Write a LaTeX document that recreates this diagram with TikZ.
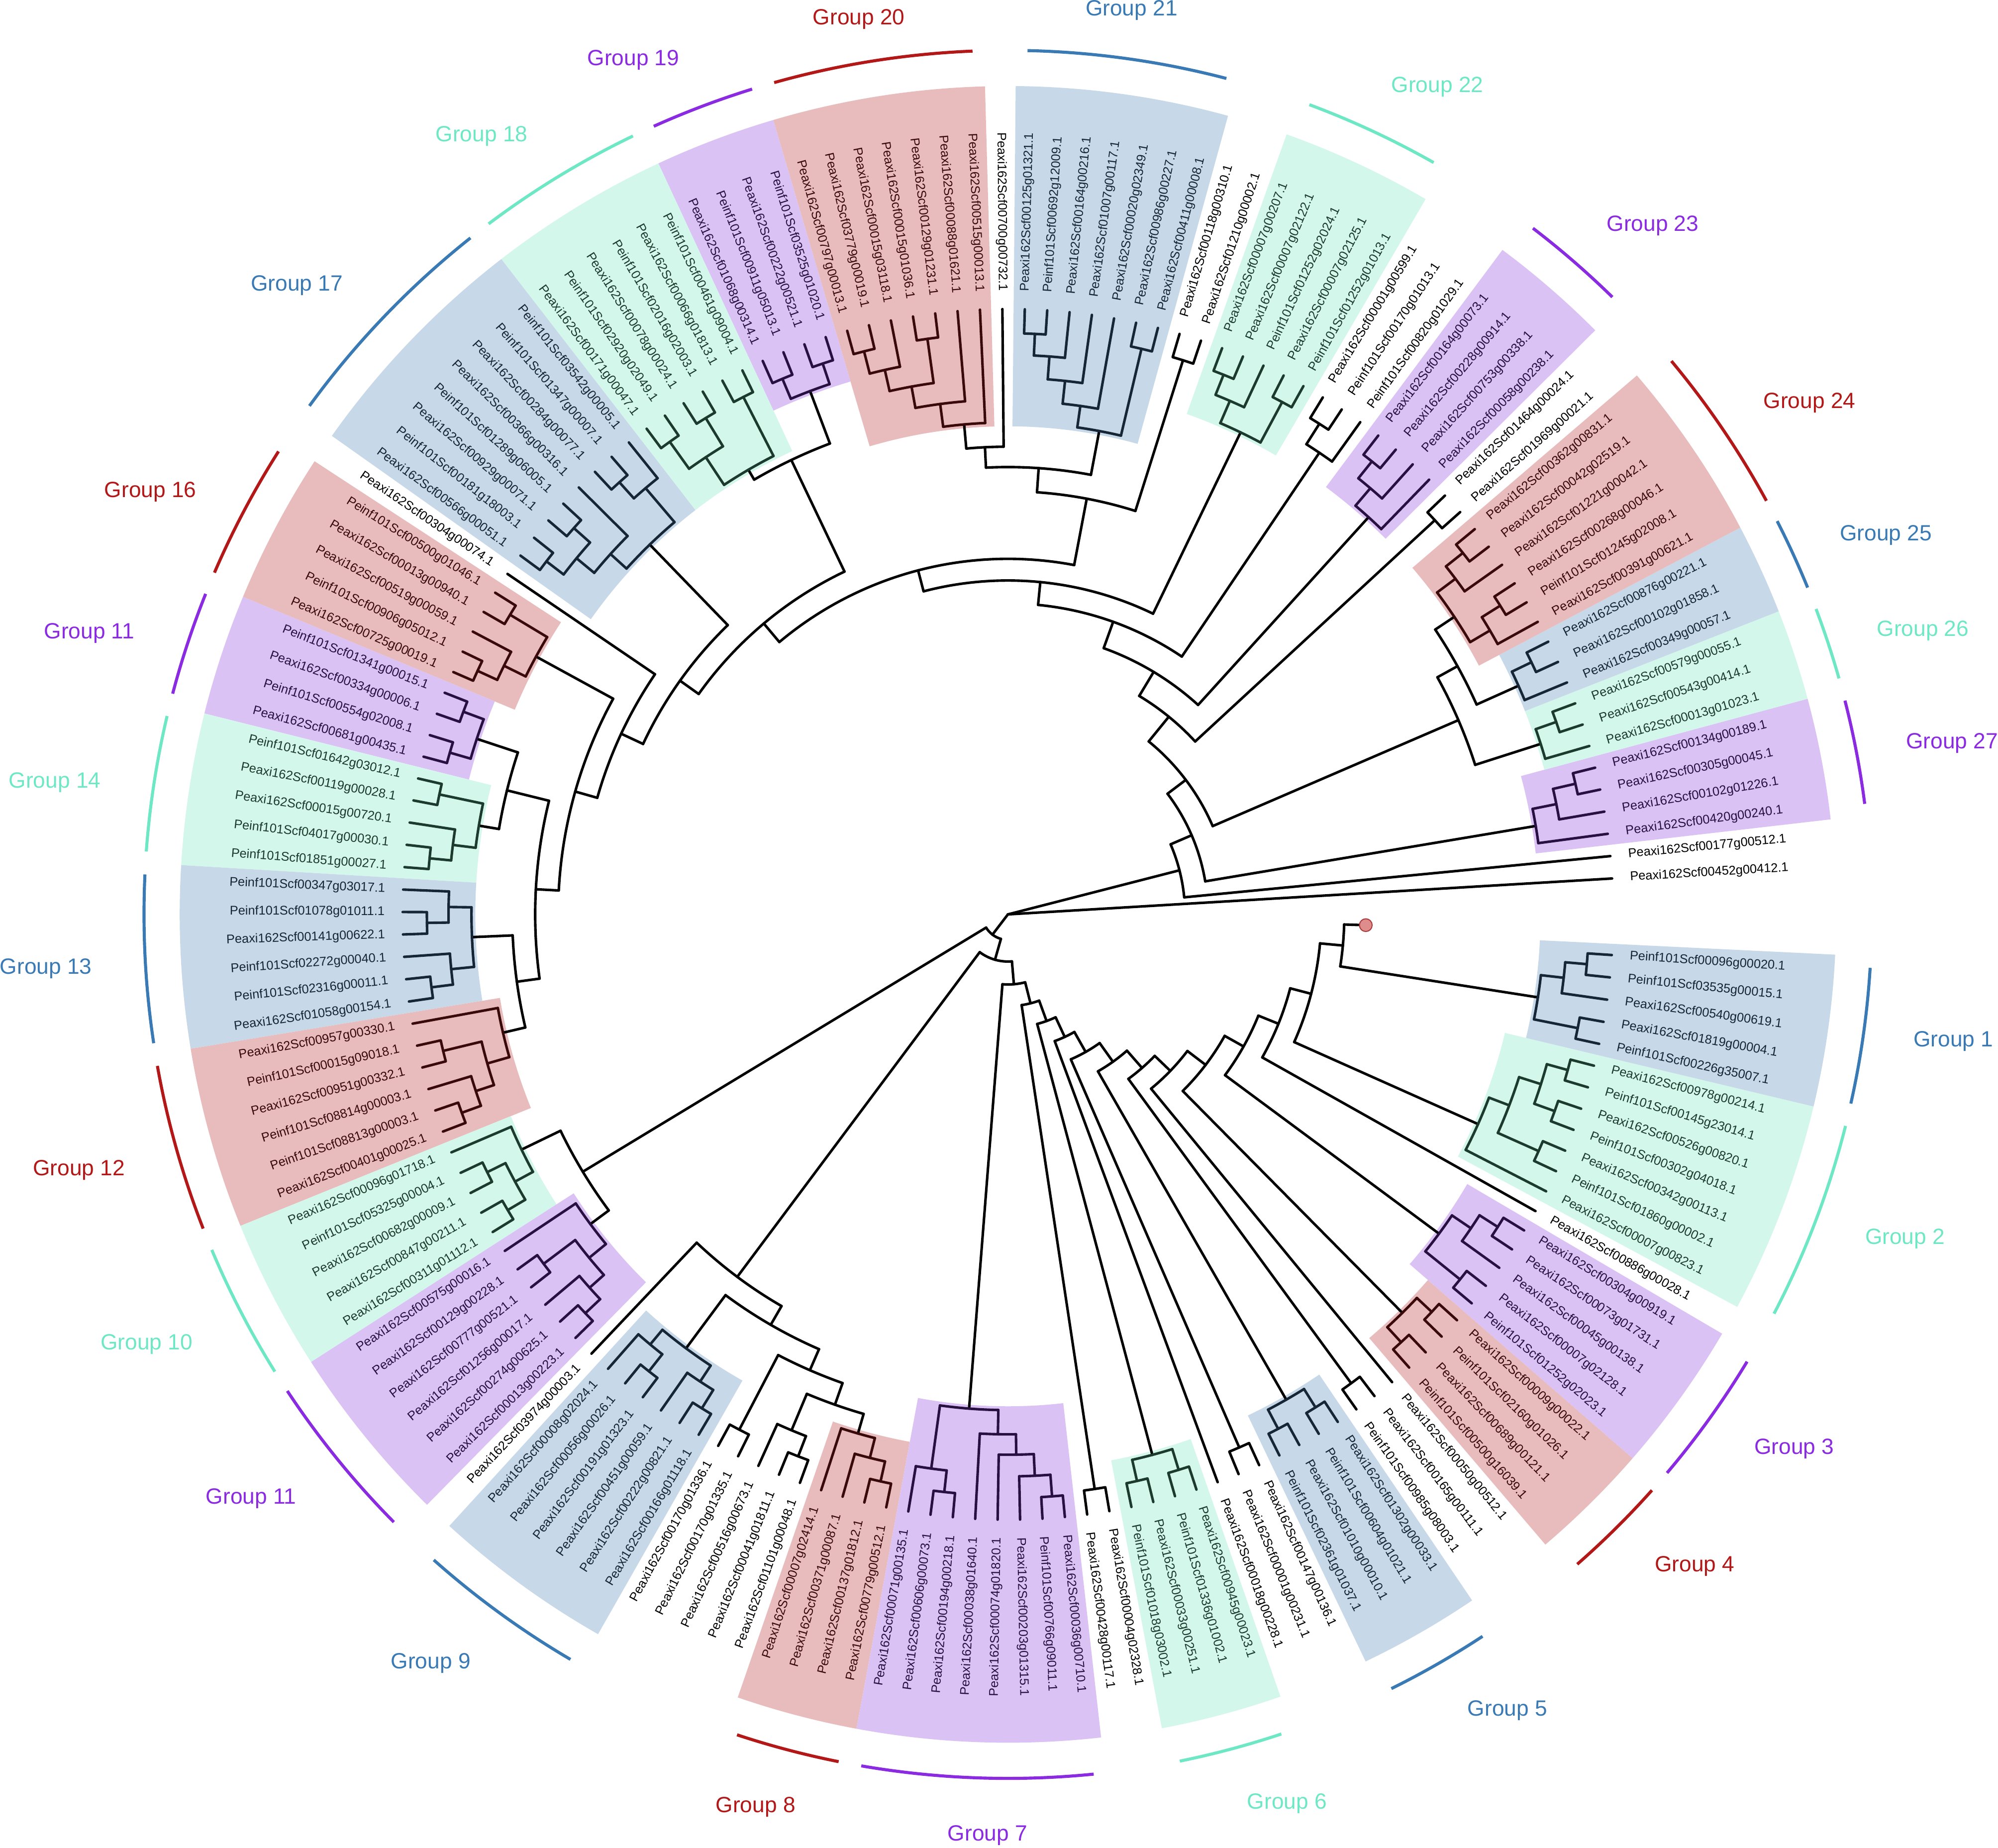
\documentclass[tikz,border=0pt]{standalone}
\usepackage{fontspec}
\setmainfont{Liberation Sans}
\definecolor{wRed}{RGB}{232,188,188}
\definecolor{wBlue}{RGB}{199,216,232}
\definecolor{wMint}{RGB}{212,247,236}
\definecolor{wPur}{RGB}{219,194,245}
\definecolor{dRed}{RGB}{58,10,10}
\definecolor{dBlue}{RGB}{22,38,54}
\definecolor{dMint}{RGB}{28,58,46}
\definecolor{dPur}{RGB}{40,16,64}
\definecolor{aRed}{RGB}{178,24,24}
\definecolor{aBlue}{RGB}{58,122,180}
\definecolor{aMint}{RGB}{110,232,196}
\definecolor{aPur}{RGB}{138,43,226}
\definecolor{mkFill}{RGB}{222,140,140}
\definecolor{mkDraw}{RGB}{170,60,60}
% angle of leaf position p: 1.275 + 2.125 p
\newcommand\TNode[5]{%
  \pgfmathsetmacro\myA{1.275+2.125*(#1)}%
  \pgfmathsetmacro\myB{1.275+2.125*(#2)}%
  \pgfmathsetmacro\myM{(\myA+\myB)/2}%
  \draw[tbr,#5] (\myA:#3) arc[start angle=\myA,end angle=\myB,radius=#3pt];%
  \draw[tbr,#5] (\myM:#4) -- (\myM:#3);}
\newcommand\TRoot[5]{%
  \pgfmathsetmacro\myA{1.275+2.125*(#1)}%
  \pgfmathsetmacro\myB{1.275+2.125*(#2)}%
  \pgfmathsetmacro\myM{(\myA+\myB)/2}%
  \draw[tbr,black] (\myM:#4) -- (\myM:#3);%
  \draw[tbr,#5] (\myA:#3) arc[start angle=\myA,end angle=\myB,radius=#3pt];}
\newcommand\TLeaf[3]{%
  \pgfmathsetmacro\myA{1.275+2.125*(#1)}%
  \draw[tbr,#3] (\myA:#2) -- (\myA:475);}
\newcommand\TPair[4]{%
  \pgfmathsetmacro\myA{1.275+2.125*(#1)}%
  \pgfmathsetmacro\myB{\myA+2.125}%
  \pgfmathsetmacro\myM{\myA+1.0625}%
  \draw[tbr,#4] (\myA:475) -- (\myA:#2) arc[start angle=\myA,end angle=\myB,radius=#2pt] -- (\myB:475);%
  \draw[tbr,#4] (\myM:#3) -- (\myM:#2);}
\newcommand\Wedge[4]{%
  \pgfmathsetmacro\myA{1.275+2.125*(#2-0.5)}%
  \pgfmathsetmacro\myB{1.275+2.125*(#3+0.5)}%
  \fill[#1] (\myA:#4) arc[start angle=\myA,end angle=\myB,radius=#4pt] -- (\myB:650) arc[start angle=\myB,end angle=\myA,radius=650pt] -- cycle;}
\newcommand\GArc[3]{%
  \pgfmathsetmacro\myA{1.275+2.125*(#2)-0.3}%
  \pgfmathsetmacro\myB{1.275+2.125*(#3)+0.3}%
  \draw[#1,line width=2.4pt] (\myA:678) arc[start angle=\myA,end angle=\myB,radius=678pt];}
\begin{document}
\begin{tikzpicture}[x=1pt,y=1pt,
  tbr/.style={line width=2pt,line cap=round,line join=round},
  lab/.style={inner sep=0pt,font=\fontsize{9.9}{10}\selectfont},
  glab/.style={inner sep=0pt,font=\fontsize{17.3}{18}\selectfont}]
\useasboundingbox (-791,-732.5) rectangle (777,717.5);
% ---------- coloured sectors ----------
\Wedge{wPur}{3}{6}{417}
\Wedge{wMint}{7}{9}{436}
\Wedge{wBlue}{10}{12}{436}
\Wedge{wRed}{13}{18}{418}
\Wedge{wPur}{21}{24}{418}
\Wedge{wMint}{28}{32}{417}
\Wedge{wBlue}{35}{41}{383}
\Wedge{wRed}{43}{49}{383}
\Wedge{wPur}{50}{53}{436}
\Wedge{wMint}{54}{59}{401}
\Wedge{wBlue}{60}{67}{401}
\Wedge{wRed}{69}{73}{419}
\Wedge{wPur}{74}{77}{436}
\Wedge{wMint}{78}{82}{418}
\Wedge{wBlue}{83}{88}{418}
\Wedge{wRed}{89}{94}{404}
\Wedge{wMint}{95}{99}{421}
\Wedge{wPur}{100}{105}{405}
\Wedge{wBlue}{107}{112}{421}
\Wedge{wRed}{118}{121}{421}
\Wedge{wPur}{122}{129}{386}
\Wedge{wMint}{132}{135}{436}
\Wedge{wBlue}{139}{142}{436}
\Wedge{wRed}{146}{149}{437}
\Wedge{wPur}{150}{154}{418}
\Wedge{wMint}{156}{162}{401}
\Wedge{wBlue}{163}{167}{418}
% ---------- group arcs ----------
\GArc{aPur}{3}{6}
\GArc{aMint}{7}{9}
\GArc{aBlue}{10}{12}
\GArc{aRed}{13}{18}
\GArc{aPur}{21}{24}
\GArc{aMint}{28}{32}
\GArc{aBlue}{35}{41}
\GArc{aRed}{43}{49}
\GArc{aPur}{50}{53}
\GArc{aMint}{54}{59}
\GArc{aBlue}{60}{67}
\GArc{aRed}{69}{73}
\GArc{aPur}{74}{77}
\GArc{aMint}{78}{82}
\GArc{aBlue}{83}{88}
\GArc{aRed}{89}{94}
\GArc{aMint}{95}{99}
\GArc{aPur}{100}{105}
\GArc{aBlue}{107}{112}
\GArc{aRed}{118}{121}
\GArc{aPur}{122}{129}
\GArc{aMint}{132}{135}
\GArc{aBlue}{139}{142}
\GArc{aRed}{146}{149}
\GArc{aPur}{150}{154}
\GArc{aMint}{156}{162}
\GArc{aBlue}{163}{167}
% ---------- group labels ----------
\node[glab,text=aRed] (g20) at (-117,702.5) {Group 20};
\node[glab,text=aBlue] (g21) at (97,709.5) {Group 21};
\node[glab,text=aMint] (g22) at (337,649.5) {Group 22};
\node[glab,text=aPur] (g23) at (506,540.5) {Group 23};
\node[glab,text=aRed] (g24) at (629,401.5) {Group 24};
\node[glab,text=aBlue] (g25) at (689,297.5) {Group 25};
\node[glab,text=aMint] (g26) at (718,222.5) {Group 26};
\node[glab,text=aPur] (g27) at (741,134.5) {Group 27};
\node[glab,text=aBlue] (g1) at (742,-99.5) {Group 1};
\node[glab,text=aMint] (g2) at (704,-254.5) {Group 2};
\node[glab,text=aPur] (g3) at (617,-419.5) {Group 3};
\node[glab,text=aRed] (g4) at (539,-511.5) {Group 4};
\node[glab,text=aBlue] (g5) at (392,-624.5) {Group 5};
\node[glab,text=aMint] (g6) at (219,-697.5) {Group 6};
\node[glab,text=aPur] (g7) at (-16,-722.5) {Group 7};
\node[glab,text=aRed] (g8) at (-198,-700.5) {Group 8};
\node[glab,text=aBlue] (g9) at (-453,-587.5) {Group 9};
\node[glab,text=aPur] (g11b) at (-594,-458.5) {Group 11};
\node[glab,text=aMint] (g10) at (-676,-337.5) {Group 10};
\node[glab,text=aRed] (g12) at (-729,-200.5) {Group 12};
\node[glab,text=aBlue] (g13) at (-755,-42.5) {Group 13};
\node[glab,text=aMint] (g14) at (-748,103.5) {Group 14};
\node[glab,text=aPur] (g11a) at (-721,220.5) {Group 11};
\node[glab,text=aRed] (g16) at (-673,331.5) {Group 16};
\node[glab,text=aBlue] (g17) at (-558,493.5) {Group 17};
\node[glab,text=aMint] (g18) at (-413,610.5) {Group 18};
\node[glab,text=aPur] (g19) at (-294,670.5) {Group 19};
% ---------- backbone ----------
\TLeaf{1}{0}{black}
\TNode{2}{10.3635}{139}{0}{black}
\TLeaf{2}{139}{black}
\TNode{3.875}{16.852}{157}{139}{black}
\TNode{10.375}{23.329}{175}{157}{black}
\TNode{7.75}{13}{385}{175}{black}
\TNode{10.75}{15.25}{403}{385}{black}
\TNode{19.5}{27.158}{200}{175}{black}
\TPair{19}{456}{200}{black}
\TNode{21.875}{32.441}{222}{200}{black}
\TNode{25.75}{39.1325}{244}{222}{black}
\TNode{25}{26.5}{437}{244}{black}
\TLeaf{25}{437}{black}
\TPair{26}{456}{437}{black}
\TNode{29.625}{48.64}{262}{244}{black}
\TNode{36.699}{60.581}{279}{262}{black}
\TNode{33.5}{39.898}{332}{279}{black}
\TPair{33}{456}{332}{black}
\TNode{36.71875}{43.078}{351}{332}{black}
\TNode{42}{44.15625}{367}{351}{black}
\TLeaf{42}{367}{black}
\TNode{53.75}{67.4121}{298}{279}{black}
\TNode{51.5}{56}{395}{298}{black}
\TNode{62.5}{72.3242}{316}{298}{black}
\TNode{68}{76.6484}{335}{316}{black}
\TLeaf{68}{335}{black}
\TNode{70.625}{82.671875}{353}{335}{black}
\TNode{77.5625}{87.78125}{371}{353}{black}
\TNode{75.5}{79.625}{405}{371}{black}
\TNode{85.25}{90.3125}{389}{371}{black}
\TNode{98.78}{118.96}{20}{0}{black}
\TNode{96.25}{101.3125}{390}{20}{black}
\TNode{109.164}{128.755}{37}{20}{black}
\TNode{106}{112.328}{355}{37}{black}
\TLeaf{106}{355}{black}
\TNode{109.25}{115.406}{372}{355}{black}
\TNode{113.5}{117.3125}{390}{372}{black}
\TPair{113}{456}{390}{black}
\TNode{115.75}{118.875}{408}{390}{black}
\TNode{115}{116.5}{439}{408}{black}
\TLeaf{115}{439}{black}
\TPair{116}{456}{439}{black}
\TNode{124.344}{133.166}{55}{37}{black}
\TNode{130.5}{135.832}{72}{55}{black}
\TPair{130}{456}{72}{black}
\TNode{133.5}{138.165}{89}{72}{black}
\TNode{136}{140.329}{106}{89}{black}
\TLeaf{136}{106}{black}
\TNode{137.5}{143.159}{124}{106}{black}
\TPair{137}{456}{124}{black}
\TNode{140.5}{145.8175}{142}{124}{black}
\TNode{143.5}{148.135}{160}{142}{black}
\TPair{143}{456}{160}{black}
\TNode{145}{151.27}{177}{160}{black}
\TLeaf{145}{177}{black}
\TNode{147.5}{155.039}{195}{177}{black}
\TNode{151.625}{158.453}{212}{195}{black}
\TNode{155}{161.906}{229}{212}{black}
\TLeaf{155}{229}{black}
\TNode{157.5}{166.3125}{246}{229}{black}
\TNode{164.625}{168}{264}{246}{black}
\draw[tbr,black] (358.275:264) -- (358.275:281);
\node[circle,fill=mkFill,draw=mkDraw,line width=0.8pt,minimum size=10pt,inner sep=0pt] (mark) at (358.275:281) {};
% ---------- groups ----------
\TRoot{3}{4.75}{420}{157}{dPur}
\TLeaf{3}{420}{dPur}
\TNode{4}{5.5}{439}{420}{dPur}
\TLeaf{4}{439}{dPur}
\TPair{5}{457}{439}{dPur}
\TRoot{7}{8.5}{439}{385}{dMint}
\TLeaf{7}{439}{dMint}
\TPair{8}{456}{439}{dMint}
\TRoot{10}{11.5}{439}{403}{dBlue}
\TLeaf{10}{439}{dBlue}
\TPair{11}{456}{439}{dBlue}
\TRoot{13.75}{16.75}{421}{403}{dRed}
\TNode{13}{14.5}{439}{421}{dRed}
\TLeaf{13}{439}{dRed}
\TPair{14}{456}{439}{dRed}
\TNode{16}{17.5}{439}{421}{dRed}
\TLeaf{16}{439}{dRed}
\TPair{17}{456}{439}{dRed}
\TRoot{21}{22.75}{421}{222}{dPur}
\TLeaf{21}{421}{dPur}
\TNode{22}{23.5}{439}{421}{dPur}
\TLeaf{22}{439}{dPur}
\TPair{23}{456}{439}{dPur}
\TRoot{28.5}{30.75}{420}{262}{dMint}
\TPair{28}{456}{420}{dMint}
\TNode{30}{31.5}{439}{420}{dMint}
\TLeaf{30}{439}{dMint}
\TPair{31}{456}{439}{dMint}
\TRoot{35.5}{37.9375}{386}{351}{dBlue}
\TPair{35}{456}{386}{dBlue}
\TNode{37}{38.875}{403}{386}{dBlue}
\TLeaf{37}{403}{dBlue}
\TNode{38}{39.75}{421}{403}{dBlue}
\TLeaf{38}{421}{dBlue}
\TNode{39}{40.5}{439}{421}{dBlue}
\TLeaf{39}{439}{dBlue}
\TPair{40}{456}{439}{dBlue}
\TRoot{43}{45.3125}{386}{367}{dRed}
\TLeaf{43}{386}{dRed}
\TNode{44}{46.625}{404}{386}{dRed}
\TLeaf{44}{404}{dRed}
\TNode{45.5}{47.75}{421}{404}{dRed}
\TPair{45}{456}{421}{dRed}
\TNode{47}{48.5}{438}{421}{dRed}
\TLeaf{47}{438}{dRed}
\TPair{48}{456}{438}{dRed}
\TRoot{50.5}{52.5}{439}{395}{dPur}
\TPair{50}{456}{439}{dPur}
\TPair{52}{456}{439}{dPur}
\TRoot{54.5}{57.5}{404}{395}{dMint}
\TPair{54}{456}{404}{dMint}
\TNode{56.5}{58.5}{430}{404}{dMint}
\TPair{56}{456}{430}{dMint}
\TPair{58}{456}{430}{dMint}
\TRoot{60.75}{64.25}{404}{316}{dBlue}
\TNode{60}{61.5}{439}{404}{dBlue}
\TLeaf{60}{439}{dBlue}
\TPair{61}{456}{439}{dBlue}
\TNode{63}{65.5}{421}{404}{dBlue}
\TLeaf{63}{421}{dBlue}
\TNode{64.5}{66.5}{439}{421}{dBlue}
\TPair{64}{456}{439}{dBlue}
\TPair{66}{456}{439}{dBlue}
\TRoot{69.5}{71.75}{422}{353}{dRed}
\TPair{69}{456}{422}{dRed}
\TNode{71}{72.5}{441}{422}{dRed}
\TLeaf{71}{441}{dRed}
\TPair{72}{458}{441}{dRed}
\TRoot{74.5}{76.5}{439}{405}{dPur}
\TPair{74}{456}{439}{dPur}
\TPair{76}{456}{439}{dPur}
\TRoot{78.5}{80.75}{421}{405}{dMint}
\TPair{78}{456}{421}{dMint}
\TNode{80}{81.5}{439}{421}{dMint}
\TLeaf{80}{439}{dMint}
\TPair{81}{456}{439}{dMint}
\TRoot{83.75}{86.75}{421}{389}{dBlue}
\TNode{83}{84.5}{439}{421}{dBlue}
\TLeaf{83}{439}{dBlue}
\TPair{84}{456}{439}{dBlue}
\TNode{86}{87.5}{439}{421}{dBlue}
\TLeaf{86}{439}{dBlue}
\TPair{87}{456}{439}{dBlue}
\TRoot{89}{91.625}{407}{389}{dRed}
\TLeaf{89}{407}{dRed}
\TNode{90.5}{92.75}{425}{407}{dRed}
\TPair{90}{456}{425}{dRed}
\TNode{92}{93.5}{440}{425}{dRed}
\TLeaf{92}{440}{dRed}
\TPair{93}{456}{440}{dRed}
\TRoot{95}{97.5}{424}{390}{dMint}
\TLeaf{95}{424}{dMint}
\TNode{96.5}{98.5}{440}{424}{dMint}
\TPair{96}{456}{440}{dMint}
\TPair{98}{456}{440}{dMint}
\TRoot{100}{102.625}{408}{390}{dPur}
\TLeaf{100}{408}{dPur}
\TNode{101.5}{103.75}{425}{408}{dPur}
\TPair{101}{456}{425}{dPur}
\TNode{103}{104.5}{440}{425}{dPur}
\TLeaf{103}{440}{dPur}
\TPair{104}{456}{440}{dPur}
\TRoot{107.75}{110.75}{424}{372}{dBlue}
\TNode{107}{108.5}{439}{424}{dBlue}
\TLeaf{107}{439}{dBlue}
\TPair{108}{456}{439}{dBlue}
\TNode{110}{111.5}{439}{424}{dBlue}
\TLeaf{110}{439}{dBlue}
\TPair{111}{456}{439}{dBlue}
\TRoot{118}{119.75}{424}{408}{dRed}
\TLeaf{118}{424}{dRed}
\TNode{119}{120.5}{440}{424}{dRed}
\TLeaf{119}{440}{dRed}
\TPair{120}{456}{440}{dRed}
\TRoot{122.75}{125.9375}{389}{55}{dPur}
\TNode{122}{123.5}{439}{389}{dPur}
\TLeaf{122}{439}{dPur}
\TPair{123}{456}{439}{dPur}
\TNode{125}{126.875}{408}{389}{dPur}
\TLeaf{125}{408}{dPur}
\TNode{126}{127.75}{424}{408}{dPur}
\TLeaf{126}{424}{dPur}
\TNode{127}{128.5}{441}{424}{dPur}
\TLeaf{127}{441}{dPur}
\TPair{128}{458}{441}{dPur}
\TRoot{132.5}{134.5}{439}{89}{dMint}
\TPair{132}{456}{439}{dMint}
\TPair{134}{456}{439}{dMint}
\TRoot{139.5}{141.5}{439}{142}{dBlue}
\TPair{139}{456}{439}{dBlue}
\TPair{141}{456}{439}{dBlue}
\TRoot{146.5}{148.5}{440}{195}{dRed}
\TPair{146}{456}{440}{dRed}
\TPair{148}{456}{440}{dRed}
\TRoot{150.5}{152.75}{421}{212}{dPur}
\TPair{150}{456}{421}{dPur}
\TNode{152}{153.5}{439}{421}{dPur}
\TLeaf{152}{439}{dPur}
\TPair{153}{456}{439}{dPur}
\TRoot{156}{159}{404}{246}{dMint}
\TLeaf{156}{404}{dMint}
\TNode{157.5}{160.5}{421}{404}{dMint}
\TPair{157}{456}{421}{dMint}
\TNode{159.5}{161.5}{439}{421}{dMint}
\TPair{159}{456}{439}{dMint}
\TPair{161}{456}{439}{dMint}
\TRoot{163.5}{165.75}{421}{264}{dBlue}
\TPair{163}{456}{421}{dBlue}
\TNode{165}{166.5}{439}{421}{dBlue}
\TLeaf{165}{439}{dBlue}
\TPair{166}{456}{439}{dBlue}
% ---------- leaf labels ----------
\foreach \i/\nm/\cl in {
1/Peaxi162Scf00452g00412.1/black,
2/Peaxi162Scf00177g00512.1/black,
3/Peaxi162Scf00420g00240.1/dPur,
4/Peaxi162Scf00102g01226.1/dPur,
5/Peaxi162Scf00305g00045.1/dPur,
6/Peaxi162Scf00134g00189.1/dPur,
7/Peaxi162Scf00013g01023.1/dMint,
8/Peaxi162Scf00543g00414.1/dMint,
9/Peaxi162Scf00579g00055.1/dMint,
10/Peaxi162Scf00349g00057.1/dBlue,
11/Peaxi162Scf00102g01858.1/dBlue,
12/Peaxi162Scf00876g00221.1/dBlue,
13/Peaxi162Scf00391g00621.1/dRed,
14/Peinf101Scf01245g02008.1/dRed,
15/Peaxi162Scf00268g00046.1/dRed,
16/Peaxi162Scf01221g00042.1/dRed,
17/Peaxi162Scf00042g02519.1/dRed,
18/Peaxi162Scf00362g00831.1/dRed,
19/Peaxi162Scf01969g00021.1/black,
20/Peaxi162Scf01464g00024.1/black,
21/Peaxi162Scf00058g00238.1/dPur,
22/Peaxi162Scf00753g00338.1/dPur,
23/Peaxi162Scf00228g00914.1/dPur,
24/Peaxi162Scf00164g00073.1/dPur,
25/Peinf101Scf00820g01029.1/black,
26/Peinf101Scf00170g01013.1/black,
27/Peaxi162Scf00001g00599.1/black,
28/Peinf101Scf01252g01013.1/dMint,
29/Peaxi162Scf00007g02125.1/dMint,
30/Peinf101Scf01252g02024.1/dMint,
31/Peaxi162Scf00007g02122.1/dMint,
32/Peaxi162Scf00007g00207.1/dMint,
33/Peaxi162Scf01210g00002.1/black,
34/Peaxi162Scf00118g00310.1/black,
35/Peaxi162Scf00411g00008.1/dBlue,
36/Peaxi162Scf00986g00227.1/dBlue,
37/Peaxi162Scf00020g02349.1/dBlue,
38/Peaxi162Scf01007g00117.1/dBlue,
39/Peaxi162Scf00164g00216.1/dBlue,
40/Peinf101Scf00692g12009.1/dBlue,
41/Peaxi162Scf00125g01321.1/dBlue,
42/Peaxi162Scf00700g00732.1/black,
43/Peaxi162Scf00515g00013.1/dRed,
44/Peaxi162Scf00088g01621.1/dRed,
45/Peaxi162Scf00129g01231.1/dRed,
46/Peaxi162Scf00015g01036.1/dRed,
47/Peaxi162Scf00015g03118.1/dRed,
48/Peaxi162Scf03779g00019.1/dRed,
49/Peaxi162Scf00797g00013.1/dRed,
50/Peinf101Scf03525g01020.1/dPur,
51/Peaxi162Scf00222g00521.1/dPur,
52/Peinf101Scf00911g05013.1/dPur,
53/Peaxi162Scf01068g00314.1/dPur,
54/Peinf101Scf00461g09004.1/dMint,
55/Peaxi162Scf00066g01813.1/dMint,
56/Peinf101Scf02016g02003.1/dMint,
57/Peaxi162Scf00078g00024.1/dMint,
58/Peinf101Scf02920g02049.1/dMint,
59/Peaxi162Scf00171g00047.1/dMint,
60/Peinf101Scf03542g00005.1/dBlue,
61/Peinf101Scf01347g00007.1/dBlue,
62/Peaxi162Scf00284g00077.1/dBlue,
63/Peaxi162Scf00366g00316.1/dBlue,
64/Peinf101Scf01289g06005.1/dBlue,
65/Peaxi162Scf00929g00071.1/dBlue,
66/Peinf101Scf00181g18003.1/dBlue,
67/Peaxi162Scf00566g00051.1/dBlue,
68/Peaxi162Scf00304g00074.1/black,
69/Peinf101Scf00500g01046.1/dRed,
70/Peaxi162Scf00013g00940.1/dRed,
71/Peaxi162Scf00519g00059.1/dRed,
72/Peinf101Scf00906g05012.1/dRed,
73/Peaxi162Scf00725g00019.1/dRed,
74/Peinf101Scf01341g00015.1/dPur,
75/Peaxi162Scf00334g00006.1/dPur,
76/Peinf101Scf00554g02008.1/dPur,
77/Peaxi162Scf00681g00435.1/dPur,
78/Peinf101Scf01642g03012.1/dMint,
79/Peaxi162Scf00119g00028.1/dMint,
80/Peaxi162Scf00015g00720.1/dMint,
81/Peinf101Scf04017g00030.1/dMint,
82/Peinf101Scf01851g00027.1/dMint,
83/Peinf101Scf00347g03017.1/dBlue,
84/Peinf101Scf01078g01011.1/dBlue,
85/Peaxi162Scf00141g00622.1/dBlue,
86/Peinf101Scf02272g00040.1/dBlue,
87/Peinf101Scf02316g00011.1/dBlue,
88/Peaxi162Scf01058g00154.1/dBlue,
89/Peaxi162Scf00957g00330.1/dRed,
90/Peinf101Scf00015g09018.1/dRed,
91/Peaxi162Scf00951g00332.1/dRed,
92/Peinf101Scf08814g00003.1/dRed,
93/Peinf101Scf08813g00003.1/dRed,
94/Peaxi162Scf00401g00025.1/dRed,
95/Peaxi162Scf00096g01718.1/dMint,
96/Peinf101Scf05325g00004.1/dMint,
97/Peaxi162Scf00682g00009.1/dMint,
98/Peaxi162Scf00847g00211.1/dMint,
99/Peaxi162Scf00311g01112.1/dMint,
100/Peaxi162Scf00575g00016.1/dPur,
101/Peaxi162Scf00129g00228.1/dPur,
102/Peaxi162Scf00777g00521.1/dPur,
103/Peaxi162Scf01256g00017.1/dPur,
104/Peaxi162Scf00274g00625.1/dPur,
105/Peaxi162Scf00013g00223.1/dPur,
106/Peaxi162Scf03974g00003.1/black,
107/Peaxi162Scf00008g02024.1/dBlue,
108/Peaxi162Scf00056g00026.1/dBlue,
109/Peaxi162Scf00191g01323.1/dBlue,
110/Peaxi162Scf00451g00059.1/dBlue,
111/Peaxi162Scf00222g00821.1/dBlue,
112/Peaxi162Scf00166g01118.1/dBlue,
113/Peaxi162Scf00170g01336.1/black,
114/Peaxi162Scf00170g01335.1/black,
115/Peaxi162Scf00516g00673.1/black,
116/Peaxi162Scf00041g01811.1/black,
117/Peaxi162Scf01101g00048.1/black,
118/Peaxi162Scf00007g02414.1/dRed,
119/Peaxi162Scf00371g00087.1/dRed,
120/Peaxi162Scf00137g01812.1/dRed,
121/Peaxi162Scf00779g00512.1/dRed,
122/Peaxi162Scf00071g00135.1/dPur,
123/Peaxi162Scf00606g00073.1/dPur,
124/Peaxi162Scf00194g00218.1/dPur,
125/Peaxi162Scf00038g01640.1/dPur,
126/Peaxi162Scf00074g01820.1/dPur,
127/Peaxi162Scf00203g01315.1/dPur,
128/Peinf101Scf00766g09011.1/dPur,
129/Peaxi162Scf00036g00710.1/dPur,
130/Peaxi162Scf00428g00117.1/black,
131/Peaxi162Scf00004g02328.1/black,
132/Peinf101Scf01018g03002.1/dMint,
133/Peaxi162Scf00033g00251.1/dMint,
134/Peinf101Scf01336g01002.1/dMint,
135/Peaxi162Scf00945g00023.1/dMint,
136/Peaxi162Scf00018g00228.1/black,
137/Peaxi162Scf00001g00231.1/black,
138/Peaxi162Scf00147g00136.1/black,
139/Peinf101Scf02361g01037.1/dBlue,
140/Peaxi162Scf01010g00010.1/dBlue,
141/Peinf101Scf00604g01021.1/dBlue,
142/Peaxi162Scf01302g00033.1/dBlue,
143/Peinf101Scf00985g08003.1/black,
144/Peaxi162Scf00165g00111.1/black,
145/Peaxi162Scf00050g00512.1/black,
146/Peinf101Scf00500g16039.1/dRed,
147/Peaxi162Scf00689g00121.1/dRed,
148/Peinf101Scf02160g01026.1/dRed,
149/Peaxi162Scf00009g00022.1/dRed,
150/Peinf101Scf01252g02023.1/dPur,
151/Peaxi162Scf00007g02128.1/dPur,
152/Peaxi162Scf00045g00138.1/dPur,
153/Peaxi162Scf00073g01731.1/dPur,
154/Peaxi162Scf00304g00919.1/dPur,
155/Peaxi162Scf00886g00028.1/black,
156/Peaxi162Scf00007g00823.1/dMint,
157/Peinf101Scf01860g00002.1/dMint,
158/Peaxi162Scf00342g00113.1/dMint,
159/Peinf101Scf00302g04018.1/dMint,
160/Peaxi162Scf00526g00820.1/dMint,
161/Peinf101Scf00145g23014.1/dMint,
162/Peaxi162Scf00978g00214.1/dMint,
163/Peinf101Scf00226g35007.1/dBlue,
164/Peaxi162Scf01819g00004.1/dBlue,
165/Peaxi162Scf00540g00619.1/dBlue,
166/Peinf101Scf03535g00015.1/dBlue,
167/Peinf101Scf00096g00020.1/dBlue}{
  \pgfmathsetmacro\myT{1.275+2.125*\i}
  \pgfmathtruncatemacro\lft{(\myT>90)&&(\myT<270)}
  \ifnum\lft=1
    \node[lab,text=\cl,anchor=east,rotate=\myT-180] (L\i) at (\myT:489) {\nm};
  \else
    \node[lab,text=\cl,anchor=west,rotate=\myT] (L\i) at (\myT:489) {\nm};
  \fi
}
\end{tikzpicture}
\end{document}
